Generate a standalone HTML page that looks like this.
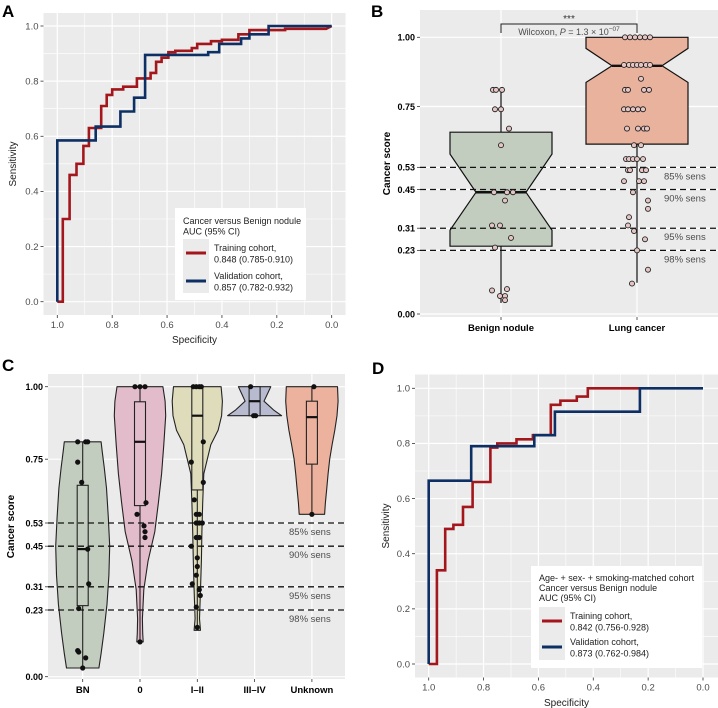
<!DOCTYPE html>
<html><head><meta charset="utf-8"><style>
html,body{margin:0;padding:0;background:#fff;}
svg{display:block;font-family:"Liberation Sans",Arial,sans-serif;}
</style></head><body>
<svg id="fig" width="718" height="708" viewBox="0 0 718 708" xmlns="http://www.w3.org/2000/svg"></svg>
<script>
// ---------- DATA ----------
const rocTicks = [1.0,0.8,0.6,0.4,0.2,0.0];
const rocTickLabels = ["1.0","0.8","0.6","0.4","0.2","0.0"];
const aTrainSpec=[1,0.98,0.98,0.955,0.955,0.93,0.93,0.905,0.905,0.885,0.885,0.84,0.84,0.82,0.82,0.80,0.80,0.76,0.76,0.71,0.71,0.66,0.66,0.64,0.64,0.62,0.62,0.595,0.595,0.57,0.57,0.51,0.51,0.49,0.49,0.44,0.44,0.40,0.40,0.34,0.34,0.30,0.30,0.17,0.17,0.02,0];
const aTrainSens=[0,0,0.30,0.30,0.46,0.46,0.50,0.50,0.565,0.565,0.63,0.63,0.71,0.71,0.75,0.75,0.77,0.77,0.78,0.78,0.81,0.81,0.83,0.83,0.87,0.87,0.885,0.885,0.905,0.905,0.91,0.91,0.92,0.92,0.935,0.935,0.945,0.945,0.95,0.95,0.97,0.97,0.985,0.985,0.99,0.99,1];
const aValSpec=[1,1,0.86,0.86,0.77,0.77,0.72,0.72,0.68,0.68,0.45,0.45,0.41,0.41,0.33,0.33,0.30,0.30,0.23,0.23,0];
const aValSens=[0,0.585,0.585,0.635,0.635,0.69,0.69,0.74,0.74,0.895,0.895,0.905,0.905,0.935,0.935,0.955,0.955,0.97,0.97,1,1];
const dTrainSpec=[1,0.97,0.97,0.94,0.94,0.91,0.91,0.875,0.875,0.84,0.84,0.775,0.775,0.75,0.75,0.68,0.68,0.62,0.62,0.555,0.555,0.52,0.52,0.46,0.46,0.42,0.42,0.23];
const dTrainSens=[0,0,0.34,0.34,0.49,0.49,0.505,0.505,0.57,0.57,0.66,0.66,0.785,0.785,0.80,0.80,0.815,0.815,0.83,0.83,0.94,0.94,0.955,0.955,0.97,0.97,1,1];
const dValSpec=[1,1,0.845,0.845,0.615,0.615,0.54,0.54,0.23,0.23,0];
const dValSens=[0,0.665,0.665,0.79,0.79,0.83,0.83,0.915,0.915,1,1];

const scoreTicks=[0,0.23,0.31,0.45,0.53,0.75,1.0];
const scoreTickLabels=["0.00","0.23","0.31","0.45","0.53","0.75","1.00"];
const cutoffs=[0.53,0.45,0.31,0.23];
const cutoffLabels=["85% sens","90% sens","95% sens","98% sens"];

const bCats=["Benign nodule","Lung cancer"];
const bQ1=[0.245,0.614], bMed=[0.44,0.897], bQ3=[0.657,1.0], bLo=[0.04,0.113], bHi=[0.81,1.0];
const bNotchLo=[0.303,0.837], bNotchHi=[0.578,0.96];
const bBenVals=[0.81,0.81,0.81,0.74,0.74,0.67,0.61,0.44,0.44,0.44,0.41,0.32,0.32,0.275,0.24,0.085,0.09,0.065,0.065,0.05];
const bBenJit=[-8,-5,1,-6,0,8,0,-7,6,12,4,-9,-1,10,-6,-9,6,-1,4,4];
const bLungVals=[1,1,1,1,1,1,0.9,0.9,0.9,0.9,0.9,0.9,0.9,0.85,0.81,0.81,0.81,0.81,0.74,0.74,0.74,0.74,0.74,0.67,0.67,0.67,0.67,0.61,0.61,0.56,0.56,0.56,0.56,0.56,0.52,0.52,0.52,0.52,0.48,0.48,0.48,0.44,0.41,0.38,0.35,0.32,0.30,0.27,0.23,0.16,0.11];
const bLungJit=[-12,-7,-2,3,8,13,-13,-8,-4,0,4,9,13,4,-12,-9,7,12,-13,-9,-4,1,6,-10,1,7,10,-3,4,-11,-8,-4,0,6,-9,-7,5,9,-13,2,7,-4,11,11,-8,-9,-3,8,0,11,-5];

const cCats=["BN","0","I\u2013II","III\u2013IV","Unknown"];
const cColors=["#c3cdbf","#e3bccb","#dfdcbb","#b8bbd0","#ecb29e"];
const cQ1=[0.245,0.59,0.644,0.9,0.733], cMed=[0.44,0.81,0.9,0.95,0.895], cQ3=[0.66,0.948,1.0,1.0,0.95], cLo=[0.03,0.12,0.16,0.9,0.56], cHi=[0.81,1.0,1.0,1.0,1.0];
const vBNy=[0.03,0.08,0.15,0.25,0.35,0.45,0.55,0.65,0.72,0.78,0.81], vBNw=[0.6,0.68,0.78,0.9,0.97,1.0,0.95,0.88,0.8,0.72,0.68];
const v0y=[0.12,0.15,0.2,0.3,0.4,0.5,0.6,0.7,0.8,0.9,0.95,1.0], v0w=[0.12,0.1,0.09,0.14,0.3,0.55,0.68,0.8,0.88,0.95,0.93,0.85];
const v12y=[0.16,0.2,0.3,0.4,0.5,0.6,0.7,0.8,0.85,0.9,0.95,1.0], v12w=[0.12,0.08,0.12,0.15,0.17,0.2,0.24,0.5,0.77,0.9,0.93,0.88];
const v34y=[0.9,0.92,0.95,0.98,1.0], v34w=[1.0,0.7,0.35,0.5,0.6];
const vUy=[0.56,0.6,0.65,0.7,0.75,0.8,0.85,0.9,0.95,1.0], vUw=[0.47,0.5,0.55,0.6,0.66,0.75,0.85,0.93,0.97,0.95];
const cPtCat=[0,0,0,0,0,0,0,0,0,0,0,0, 1,1,1,1,1,1,1,1,1, 2,2,2,2,2,2,2,2,2,2,2,2,2,2,2,2,2,2,2,2,2,2,2,2, 3,3,3, 4,4];
const cPtVal=[0.81,0.81,0.81,0.74,0.67,0.44,0.32,0.235,0.09,0.085,0.065,0.03, 1,1,1,0.6,0.56,0.52,0.5,0.48,0.12, 1,1,1,1,0.81,0.74,0.67,0.61,0.56,0.56,0.53,0.53,0.53,0.48,0.48,0.45,0.41,0.38,0.35,0.32,0.30,0.28,0.24,0.17, 1,0.9,0.9, 1,0.56];
const cPtJit=[-5,3,5,-5,-1,5,6,-4,-5,-4,3,0, -5,0,5,6,-3,4,5,5,0, -4,-1,2,4,6,-6,6,-3,-1,2,-1,2,5,-1,2,-6,0,0,-1,-5,2,3,-1,0, -4,-1,1, 2,0];

// ---------- HELPERS ----------
const NS="http://www.w3.org/2000/svg";
const svg=document.getElementById('fig');
function mk(tag,attrs,parent){const e=document.createElementNS(NS,tag);for(const k in attrs)e.setAttribute(k,attrs[k]);(parent||svg).appendChild(e);return e;}
function txt(s,attrs,parent){const e=mk('text',attrs,parent);e.textContent=s;return e;}
function group(name){const g=mk('g',{});return g;}

// ---------- ROC PANEL ----------
function rocPanel(o){
  const g=group(o.name);
  const sx=v=>o.x0+(1-v)*(o.x1-o.x0), sy=v=>o.y0+(1-v)*(o.y1-o.y0);
  const bg=mk('rect',{x:o.px0,y:o.py0,width:o.px1-o.px0,height:o.py1-o.py0,fill:'#ebebeb'},g);
  
  rocTicks.forEach((t,i)=>{
    if(i<rocTicks.length-1){const m=(t+rocTicks[i+1])/2;
      mk('line',{x1:sx(m),x2:sx(m),y1:o.py0,y2:o.py1,stroke:'#fff','stroke-width':0.6},g);
      mk('line',{y1:sy(m),y2:sy(m),x1:o.px0,x2:o.px1,stroke:'#fff','stroke-width':0.6},g);}
    mk('line',{x1:sx(t),x2:sx(t),y1:o.py0,y2:o.py1,stroke:'#fff','stroke-width':1.2},g);
    mk('line',{y1:sy(t),y2:sy(t),x1:o.px0,x2:o.px1,stroke:'#fff','stroke-width':1.2},g);
    mk('line',{x1:sx(t),x2:sx(t),y1:o.py1,y2:o.py1+3,stroke:'#333','stroke-width':0.8},g);
    mk('line',{y1:sy(t),y2:sy(t),x1:o.px0-3,x2:o.px0,stroke:'#333','stroke-width':0.8},g);
    const xl=txt(rocTickLabels[i],{x:sx(t),y:o.py1+13,'font-size':9.5,fill:'#4d4d4d','text-anchor':'middle'},g);
    
    const yl=txt(rocTickLabels[i],{x:o.px0-5,y:sy(t)+3.3,'font-size':9.5,fill:'#4d4d4d','text-anchor':'end'},g);
    
  });
  const path=(xs,ys)=>xs.map((v,i)=>(i?'L':'M')+sx(v).toFixed(1)+','+sy(ys[i]).toFixed(1)).join('');
  const lt=mk('path',{d:path(o.ts,o.tv),fill:'none',stroke:'#a3161b','stroke-width':2.6},g);
  
  const lv=mk('path',{d:path(o.vs,o.vv),fill:'none',stroke:'#0d2f63','stroke-width':2.6},g);
  
  const xt=txt('Specificity',{x:(o.px0+o.px1)/2,y:o.xtY,'font-size':10,fill:'#222','text-anchor':'middle'},g);
  
  const yt=txt('Sensitivity',{x:0,y:0,'font-size':10,fill:'#222','text-anchor':'middle',transform:`translate(${o.ytX},${(o.py0+o.py1)/2}) rotate(-90)`},g);
  
  // legend
  const L=o.leg; const lg=mk('g',{},g);
  
  mk('rect',{x:L.x,y:L.y,width:L.w,height:L.h,fill:'#fff'},lg);
  L.title.forEach((s,i)=>txt(s,{x:L.x+8,y:L.ty+i*L.ls,'font-size':9,fill:'#222'},lg));
  mk('rect',{x:L.kx,y:L.ky,width:26,height:L.kh,fill:'#ebebeb'},lg);
  const e1=mk('g',{},lg);
  mk('line',{x1:L.kx+3,x2:L.kx+23,y1:L.r1,y2:L.r1,stroke:'#a3161b','stroke-width':3},e1);
  txt('Training cohort,',{x:L.kx+31,y:L.r1-2,'font-size':9,fill:'#222'},e1);
  txt(o.tauc,{x:L.kx+31,y:L.r1+9.5,'font-size':9,fill:'#222'},e1);
  const e2=mk('g',{},lg);
  mk('line',{x1:L.kx+3,x2:L.kx+23,y1:L.r2,y2:L.r2,stroke:'#0d2f63','stroke-width':3},e2);
  txt('Validation cohort,',{x:L.kx+31,y:L.r2-2,'font-size':9,fill:'#222'},e2);
  txt(o.vauc,{x:L.kx+31,y:L.r2+9.5,'font-size':9,fill:'#222'},e2);
  const pl=txt(o.letter,{x:o.lx,y:o.ly,'font-size':17,'font-weight':'bold',fill:'#000'},g);
  
}
rocPanel({name:'panel-a-roc',letter:'A',lx:2,ly:17,x0:57.3,x1:331.7,y0:26,y1:301.7,px0:43.5,px1:345.5,py0:13,py1:315,
  ts:aTrainSpec,tv:aTrainSens,vs:aValSpec,vv:aValSens,xtY:343,ytX:16,tauc:'0.848 (0.785-0.910)',vauc:'0.857 (0.782-0.932)',
  leg:{x:175,y:208,w:131,h:92,title:['Cancer versus Benign nodule','AUC (95% CI)'],ty:224,ls:10.5,kx:183,ky:239,kh:54,r1:253,r2:281}});
rocPanel({name:'panel-d-roc',letter:'D',lx:372,ly:374,x0:428.7,x1:703,y0:388.3,y1:664,px0:415,px1:718,py0:374.5,py1:677.5,
  ts:dTrainSpec,tv:dTrainSens,vs:dValSpec,vv:dValSens,xtY:706,ytX:389,tauc:'0.842 (0.756-0.928)',vauc:'0.873 (0.762-0.984)',
  leg:{x:531,y:566,w:171,h:102,title:['Age- + sex- + smoking-matched cohort','Cancer versus Benign nodule','AUC (95% CI)'],ty:581,ls:10,kx:539,ky:607,kh:53,r1:621,r2:647}});

// ---------- SCORE PANEL AXES ----------
function scoreAxes(g,o,cats,cx){
  const sy=v=>o.y0+(1-v)*(o.y1-o.y0);
  const bg=mk('rect',{x:o.px0,y:o.py0,width:o.px1-o.px0,height:o.py1-o.py0,fill:'#ebebeb'},g);
  
  scoreTicks.forEach((t,i)=>{
    mk('line',{y1:sy(t),y2:sy(t),x1:o.px0,x2:o.px1,stroke:'#fff','stroke-width':1.2},g);
    mk('line',{y1:sy(t),y2:sy(t),x1:o.px0-3,x2:o.px0,stroke:'#333','stroke-width':0.8},g);
    const yl=txt(scoreTickLabels[i],{x:o.px0-5,y:sy(t)+3.3,'font-size':9,'font-weight':'bold',fill:'#000','text-anchor':'end'},g);
    
  });
  cats.forEach((c,i)=>{
    mk('line',{x1:cx(i),x2:cx(i),y1:o.py0,y2:o.py1,stroke:'#fff','stroke-width':1.2},g);
    mk('line',{x1:cx(i),x2:cx(i),y1:o.py1,y2:o.py1+3,stroke:'#333','stroke-width':0.8},g);
    const xl=txt(c,{x:cx(i),y:o.py1+14,'font-size':9.5,'font-weight':'bold',fill:'#000','text-anchor':'middle'},g);
    
  });
  const yt=txt('Cancer score',{x:0,y:0,'font-size':10,'font-weight':'bold',fill:'#000','text-anchor':'middle',transform:`translate(${o.ytX},${(o.py0+o.py1)/2}) rotate(-90)`},g);
  
  return sy;
}
function cutoffLines(g,o,sy){
  cutoffs.forEach((c,i)=>{
    const l=mk('line',{x1:o.px0,x2:o.px1,y1:sy(c),y2:sy(c),stroke:'#111','stroke-width':1.3,'stroke-dasharray':'6,4'},g);
    
    const t=txt(cutoffLabels[i],{x:o.lblX,y:sy(c)+12,'font-size':9.5,fill:'#4d4d4d'},g);
    
  });
}

// ---------- PANEL B ----------
(function(){
  const g=group('panel-b-boxplot');
  const o={y0:37.3,y1:314,px0:420,px1:718,py0:10,py1:317,ytX:390,lblX:664};
  const cx=i=>501+i*136;
  const sy=scoreAxes(g,o,bCats,cx);
  const fills=['#c2ccbf','#e9b29d'];
  const hw=51, nw=25;
  bCats.forEach((c,i)=>{
    const x=cx(i);
    const bx=mk('g',{},g);
    mk('line',{x1:x,x2:x,y1:sy(bLo[i]),y2:sy(bQ1[i]),stroke:'#111','stroke-width':1.2},bx);
    mk('line',{x1:x,x2:x,y1:sy(bQ3[i]),y2:sy(bHi[i]),stroke:'#111','stroke-width':1.2},bx);
    const nh=Math.min(bNotchHi[i],bQ3[i]), nl=Math.max(bNotchLo[i],bQ1[i]);
    const pts=[[x-hw,bQ1[i]],[x-hw,nl],[x-nw,bMed[i]],[x-hw,nh],[x-hw,bQ3[i]],[x+hw,bQ3[i]],[x+hw,nh],[x+nw,bMed[i]],[x+hw,nl],[x+hw,bQ1[i]]];
    mk('polygon',{points:pts.map(p=>p[0]+','+sy(p[1]).toFixed(1)).join(' '),fill:fills[i],stroke:'#111','stroke-width':1.2},bx);
    mk('line',{x1:x-nw,x2:x+nw,y1:sy(bMed[i]),y2:sy(bMed[i]),stroke:'#111','stroke-width':2.4},bx);
  });
  cutoffLines(g,o,sy);
  const pts=[[bBenVals,bBenJit,0],[bLungVals,bLungJit,1]];
  pts.forEach(([vals,jit,ci])=>vals.forEach((v,k)=>{
    const p=mk('circle',{cx:cx(ci)+jit[k],cy:sy(v),r:2.5,fill:'#e6c6c4',stroke:'#222','stroke-width':0.9},g);
    
  }));
  const br=mk('path',{d:`M${cx(0)},33 V24 H${cx(1)} V33`,fill:'none',stroke:'#222','stroke-width':1},g);
  
  const st=txt('***',{x:(cx(0)+cx(1))/2,y:22,'font-size':10,fill:'#333','text-anchor':'middle'},g);
  
  const w=mk('text',{x:(cx(0)+cx(1))/2,y:35,'font-size':9,fill:'#4d4d4d','text-anchor':'middle'},g);
  
  w.innerHTML='Wilcoxon, <tspan font-style="italic">P</tspan> = 1.3 × 10<tspan dy="-4" font-size="6.5">−07</tspan>';
  const pl=txt('B',{x:371,y:17,'font-size':17,'font-weight':'bold',fill:'#000'},g);
  
})();

// ---------- PANEL C ----------
(function(){
  const g=group('panel-c-violin');
  const o={y0:386.7,y1:676.7,px0:48,px1:345,py0:374,py1:679,ytX:14,lblX:289};
  const cx=i=>82.7+i*57.3;
  const sy=scoreAxes(g,o,cCats,cx);
  const vy=[vBNy,v0y,v12y,v34y,vUy], vw=[vBNw,v0w,v12w,v34w,vUw];
  const maxHW=27, bw=5.5;
  cCats.forEach((c,i)=>{
    const x=cx(i);
    const vg=mk('g',{},g);
    const ys=vy[i], ws=vw[i];
    const right=ys.map((v,k)=>(x+ws[k]*maxHW).toFixed(1)+','+sy(v).toFixed(1));
    const left=ys.map((v,k)=>(x-ws[k]*maxHW).toFixed(1)+','+sy(v).toFixed(1)).reverse();
    mk('polygon',{points:right.concat(left).join(' '),fill:cColors[i],stroke:'#222','stroke-width':1.1,'stroke-linejoin':'round'},vg);
    mk('line',{x1:x,x2:x,y1:sy(cLo[i]),y2:sy(cHi[i]),stroke:'#222','stroke-width':1.1},vg);
    mk('rect',{x:x-bw,y:sy(cQ3[i]),width:bw*2,height:sy(cQ1[i])-sy(cQ3[i]),fill:cColors[i],stroke:'#222','stroke-width':1.1},vg);
    mk('line',{x1:x-bw,x2:x+bw,y1:sy(cMed[i]),y2:sy(cMed[i]),stroke:'#111','stroke-width':2.2},vg);
  });
  cutoffLines(g,o,sy);
  cPtVal.forEach((v,k)=>{
    const p=mk('circle',{cx:cx(cPtCat[k])+cPtJit[k],cy:sy(v),r:2.6,fill:'#111'},g);
    
  });
  const pl=txt('C',{x:2,y:371,'font-size':17,'font-weight':'bold',fill:'#000'},g);
  
})();
</script>
</body></html>
